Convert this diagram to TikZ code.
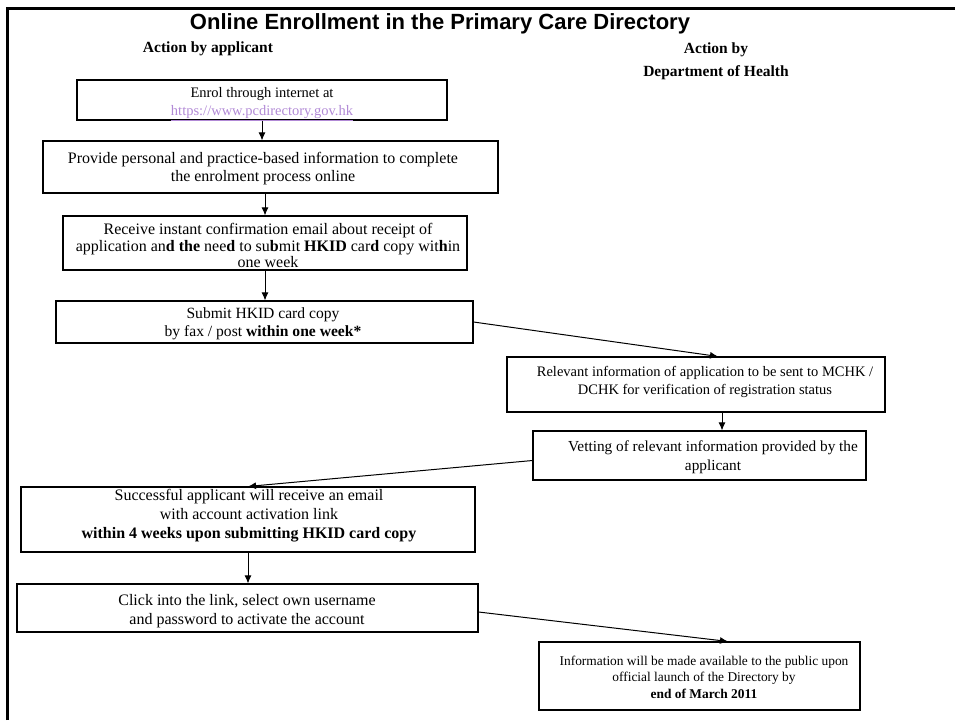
\documentclass[tikz,border=0pt]{standalone}
\usepackage{fontspec}
\setmainfont{Liberation Serif}
\newfontfamily\titlefont{Liberation Sans}
\usetikzlibrary{arrows.meta}
\definecolor{urlc}{RGB}{178,138,214}
\tikzset{
  box/.style={draw, line width=1.1pt, rectangle, inner sep=0pt},
  txt/.style={align=center, inner sep=0pt, font=\fontsize{14.5}{18}\selectfont},
  hdr/.style={align=center, inner sep=0pt, font=\fontsize{15.5}{23}\selectfont\bfseries},
  arr/.style={line width=1pt, -{Latex[length=8pt,width=7pt]}},
}
\begin{document}
\begin{tikzpicture}[x=1pt,y=-1pt]
\useasboundingbox (0,0) rectangle (955,720);
% frame
\draw[line width=3pt] (7.5,720) -- (7.5,8.5) -- (955,8.5);
% title and headers
\node[inner sep=0pt, font=\fontsize{22}{26}\titlefont\bfseries] (title) at (440,24) {Online Enrollment in the Primary Care Directory};
\node[hdr] (h1) at (208,49) {Action by applicant};
\node[hdr] (h2) at (716,61) {Action by\\Department of Health};
% boxes
\node[box, minimum width=370, minimum height=40] (b1) at (262,100) {};
\node[box, minimum width=455, minimum height=52] (b2) at (270.5,167) {};
\node[box, minimum width=404, minimum height=54] (b3) at (265,243) {};
\node[box, minimum width=417, minimum height=42] (b4) at (264.5,322) {};
\node[box, minimum width=378, minimum height=55] (b5) at (696,384.5) {};
\node[box, minimum width=333, minimum height=49] (b6) at (699.5,455.5) {};
\node[box, minimum width=454, minimum height=65] (b7) at (248,519.5) {};
\node[box, minimum width=461, minimum height=48] (b8) at (247.5,608) {};
\node[box, minimum width=321, minimum height=68] (b9) at (699.5,676) {};
% texts
\node[txt] (t1) at (262,104) {Enrol through internet at\\{\color{urlc}\underline{https://www.pcdirectory.gov.hk}}};
\node[txt, font=\fontsize{16}{18.5}\selectfont] (t2) at (263,168.5) {Provide personal and practice-based information to complete\\the enrolment process online};
\node[txt, font=\fontsize{16}{16.8}\selectfont] (t3) at (268,245.5) {Receive instant confirmation email about receipt of\\application an\textbf{d} \textbf{the} nee\textbf{d} to su\textbf{b}mit \textbf{HKID} car\textbf{d} copy wit\textbf{h}in\\one week};
\node[txt, font=\fontsize{15.6}{18}\selectfont] (t4) at (263,324) {Submit HKID card copy\\by fax / post \textbf{within one week*}};
\node[txt] (t5) at (705,381.5) {Relevant information of application to be sent to MCHK /\\DCHK for verification of registration status};
\node[txt, font=\fontsize{15.3}{19.5}\selectfont] (t6) at (713,457) {Vetting of relevant information provided by the\\applicant};
\node[txt, font=\fontsize{16}{19}\selectfont] (t7) at (249,516) {Successful applicant will receive an email\\with account activation link\\\textbf{within 4 weeks upon submitting HKID card copy}};
\node[txt, font=\fontsize{16}{19}\selectfont] (t8) at (247,611) {Click into the link, select own username\\and password to activate the account};
\node[txt, font=\fontsize{13.4}{16.5}\selectfont] (t9) at (704,677) {Information will be made available to the public upon\\official launch of the Directory by\\\textbf{end of March 2011}};
% connectors
\draw[arr] (b1.south) -- (b1.south |- b2.north);
\draw[arr] (b3.north |- b2.south) -- (b3.north);
\draw[arr] (b3.south) -- (b3.south |- b4.north);
\draw[arr] (b4.east) -- ([xshift=22pt]b5.north);
\draw[arr] ([xshift=26pt]b5.south) -- ([xshift=26pt]b5.south |- b6.north);
\draw[arr] ([yshift=-5pt]b6.west) -- (b7.north);
\draw[arr] (b7.south) -- (b7.south |- b8.north);
\draw[arr] ([yshift=-4pt]b8.east) -- ([xshift=28.5pt]b9.north);
\end{tikzpicture}
\end{document}
